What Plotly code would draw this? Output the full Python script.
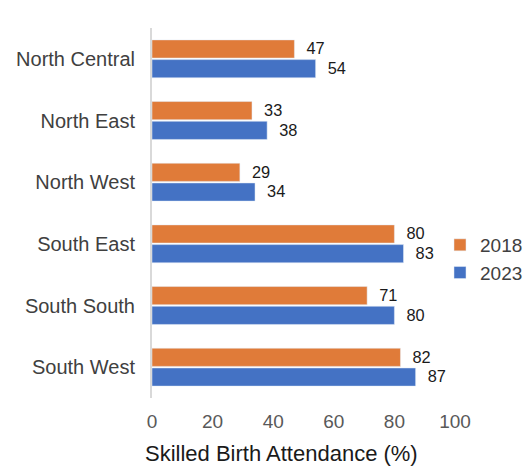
import plotly.graph_objects as go

regions = ["North Central", "North East", "North West", "South East", "South South", "South West"]
sba_2018 = [47, 33, 29, 80, 71, 82]
sba_2023 = [54, 38, 34, 83, 80, 87]
x_ticks = [0, 20, 40, 60, 80, 100]
x_title = "Skilled Birth Attendance (%)"

font_family = "Liberation Sans, Arial, sans-serif"
pad = "\u00a0\u00a0"

fig = go.Figure()
fig.add_trace(go.Bar(
    y=regions, x=sba_2018, name="2018", orientation="h",
    marker=dict(color="#E07B39"),
    text=[pad + str(v) for v in sba_2018], textposition="outside",
    textfont=dict(size=18, color="#1a1a1a", family=font_family),
    cliponaxis=False,
))
fig.add_trace(go.Bar(
    y=regions, x=sba_2023, name="2023", orientation="h",
    marker=dict(color="#4472C4"),
    text=[pad + str(v) for v in sba_2023], textposition="outside",
    textfont=dict(size=18, color="#1a1a1a", family=font_family),
    cliponaxis=False,
))

fig.add_annotation(
    text=x_title, xref="paper", yref="paper", x=0.426, y=-0.15,
    xanchor="center", yanchor="middle", showarrow=False,
    font=dict(size=22, color="#1a1a1a", family=font_family),
)

fig.update_layout(
    width=526, height=470,
    margin=dict(l=152, r=71, t=28, b=72, autoexpand=False),
    paper_bgcolor="white", plot_bgcolor="white",
    barmode="group", bargap=0.36, bargroupgap=0.08,
    font=dict(family=font_family, size=20, color="#404040"),
    showlegend=True,
    legend=dict(xref="container", yref="container",
                x=0.8365, y=0.449, xanchor="left", yanchor="middle",
                font=dict(size=19, color="#404040"),
                tracegroupgap=0, itemwidth=30,
                bgcolor="rgba(0,0,0,0)"),
    xaxis=dict(range=[0, 100], tickvals=x_ticks, showgrid=False, zeroline=False,
               showline=False, tickfont=dict(size=19, color="#595959"),
               ticklabelstandoff=10),
    yaxis=dict(autorange="reversed", showgrid=False, zeroline=False,
               showline=True, linecolor="#d9d9d9", linewidth=2,
               ticks="", ticklabelstandoff=11,
               tickfont=dict(size=20, color="#404040")),
)

fig.write_html("out.html")
